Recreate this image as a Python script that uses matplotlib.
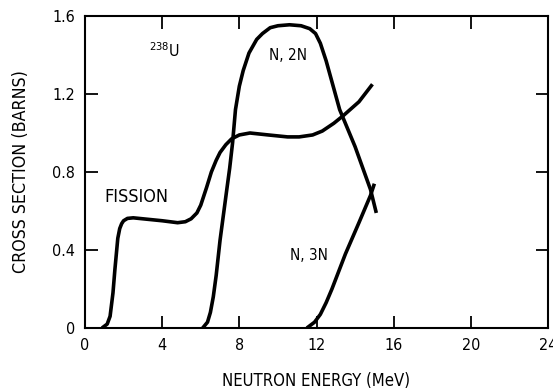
import matplotlib.pyplot as plt

# narrow face, like the original labels
plt.rcParams["font.family"] = ["DejaVu Sans"]
plt.rcParams["font.stretch"] = "condensed"

# ======= data =======
fission_x = [0.88, 1.15, 1.3, 1.45, 1.55, 1.7, 1.8, 1.9, 2.0, 2.2, 2.5, 3.0, 4.0, 4.8, 5.2, 5.5, 5.8, 6.0, 6.3,
             6.55, 6.8, 7.0, 7.3, 7.6, 8.0, 8.55, 9.5, 10.5, 11.1, 11.8, 12.3, 12.9, 13.4, 14.2, 14.9]
fission_y = [0.0, 0.02, 0.06, 0.18, 0.30, 0.46, 0.51, 0.535, 0.55, 0.562, 0.565, 0.56, 0.55, 0.54, 0.545, 0.56, 0.59, 0.63, 0.72,
             0.80, 0.86, 0.90, 0.94, 0.97, 0.99, 1.0, 0.99, 0.98, 0.98, 0.99, 1.01, 1.05, 1.09, 1.16, 1.25]

n2n_x = [6.1, 6.35, 6.5, 6.65, 6.8, 7.0, 7.35, 7.5, 7.65, 7.8, 8.0, 8.2, 8.5, 8.9, 9.2, 9.6, 10.0,
         10.6, 11.2, 11.65, 11.95, 12.2, 12.5, 13.2, 14.0, 14.8, 15.1]
n2n_y = [0.0, 0.03, 0.08, 0.16, 0.27, 0.45, 0.71, 0.82, 0.95, 1.12, 1.24, 1.32, 1.41, 1.48, 1.51, 1.54, 1.55,
         1.555, 1.55, 1.535, 1.51, 1.46, 1.37, 1.12, 0.93, 0.71, 0.59]

n3n_x = [11.5, 11.9, 12.2, 12.5, 12.8, 13.5, 14.2, 14.8, 15.0]
n3n_y = [0.0, 0.03, 0.07, 0.13, 0.20, 0.38, 0.54, 0.68, 0.74]

xticks = [0, 4, 8, 12, 16, 20, 24]
yticks = [0, 0.4, 0.8, 1.2, 1.6]
ytick_labels = ["0", "0.4", "0.8", "1.2", "1.6"]

fig = plt.figure(figsize=(5.53, 3.90), dpi=100)
ax = fig.add_axes([85 / 553, 62 / 390, 463 / 553, 312 / 390])

for xs, ys in [(fission_x, fission_y), (n2n_x, n2n_y), (n3n_x, n3n_y)]:
    ax.plot(xs, ys, color="black", linewidth=2.6, solid_capstyle="butt", solid_joinstyle="round")

ax.set_xlim(0, 24)
ax.set_ylim(0, 1.6)
ax.set_xticks(xticks)
ax.set_xticklabels([str(t) for t in xticks])
ax.set_yticks(yticks)
ax.set_yticklabels(ytick_labels)
ax.tick_params(direction="in", length=9, width=1.3, labelsize=11.5,
               top=True, right=True, pad=7)
for s in ax.spines.values():
    s.set_linewidth(1.5)

ax.text(4.1, 1.42, r"$^{238}$U", fontsize=11.5, ha="center", va="center")
ax.text(10.5, 1.40, "N, 2N", fontsize=11, ha="center", va="center")
ax.text(2.65, 0.67, "FISSION", fontsize=13, ha="center", va="center")
ax.text(11.6, 0.37, "N, 3N", fontsize=11, ha="center", va="center")

ax.set_xlabel("NEUTRON ENERGY (MeV)", fontsize=12, labelpad=14)
ax.set_ylabel("CROSS SECTION (BARNS)", fontsize=12.8, labelpad=16)

plt.savefig("out.png", dpi=100)
